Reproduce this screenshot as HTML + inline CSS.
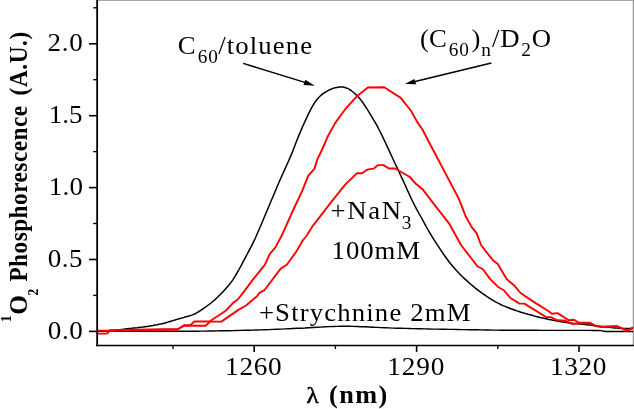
<!DOCTYPE html>
<html><head><meta charset="utf-8"><title>Singlet oxygen phosphorescence</title>
<style>
html,body{margin:0;padding:0;background:#fff;}
svg{display:block;}
text{font-family:"Liberation Serif","Times New Roman",serif;fill:#000;}
</style></head><body>
<svg width="634" height="409" viewBox="0 0 634 409">
<rect width="634" height="409" fill="#fff"/>
<line x1="97" y1="0.4" x2="634" y2="0.4" stroke="#999" stroke-width="0.95"/>
<line x1="633.4" y1="0" x2="633.4" y2="346" stroke="#999" stroke-width="1.3"/>
<g fill="none" stroke-linejoin="round" stroke-linecap="butt">
<polyline stroke="#000" stroke-width="1.4" points="97.0,331.0 101.0,331.0 105.0,331.1 109.0,331.1 113.0,331.1 117.0,331.2 121.0,331.2 125.0,331.2 129.0,331.2 133.0,331.3 137.0,331.3 141.0,331.3 145.0,331.3 149.0,331.3 153.0,331.3 157.0,331.3 161.0,331.3 165.0,331.3 169.0,331.3 173.0,331.3 177.0,331.3 181.0,331.3 185.0,331.3 189.0,331.3 193.0,331.2 197.0,331.2 201.0,331.1 205.0,331.1 209.0,331.0 213.0,331.0 217.0,330.9 221.0,330.8 225.0,330.7 229.0,330.7 233.0,330.6 237.0,330.5 241.0,330.4 245.0,330.3 249.0,330.2 253.0,330.1 257.0,330.0 261.0,329.9 265.0,329.7 269.0,329.6 273.0,329.4 277.0,329.2 281.0,329.1 285.0,328.9 289.0,328.7 293.0,328.5 297.0,328.3 301.0,328.2 305.0,328.0 309.0,327.7 313.0,327.5 317.0,327.3 321.0,327.1 325.0,326.8 329.0,326.6 333.0,326.5 337.0,326.4 341.0,326.3 345.0,326.3 349.0,326.3 353.0,326.4 357.0,326.5 361.0,326.7 365.0,326.8 369.0,327.0 373.0,327.2 377.0,327.4 381.0,327.6 385.0,327.7 389.0,327.9 393.0,328.1 397.0,328.2 401.0,328.3 405.0,328.4 409.0,328.5 413.0,328.6 417.0,328.7 421.0,328.8 425.0,328.9 429.0,329.0 433.0,329.1 437.0,329.1 441.0,329.2 445.0,329.3 449.0,329.4 453.0,329.4 457.0,329.5 461.0,329.6 465.0,329.6 469.0,329.7 473.0,329.8 477.0,329.8 481.0,329.9 485.0,330.0 489.0,330.0 493.0,330.1 497.0,330.1 501.0,330.2 505.0,330.2 509.0,330.2 513.0,330.3 517.0,330.3 521.0,330.3 525.0,330.3 529.0,330.3 533.0,330.3 537.0,330.3 541.0,330.4 545.0,330.4 549.0,330.4 553.0,330.4 557.0,330.4 561.0,330.4 565.0,330.4 569.0,330.4 573.0,330.4 577.0,330.4 581.0,330.4 585.0,330.4 589.0,330.4 593.0,330.5 597.0,330.5 601.0,330.6 605.0,331.5 609.0,331.5 613.0,331.5 617.0,331.5 621.0,331.5 625.0,331.5 629.0,331.5 633.0,331.5"/>
<polyline stroke="#000" stroke-width="1.5" points="97.0,331.2 99.0,331.2 101.0,331.2 103.0,331.1 105.0,331.1 107.0,331.0 109.0,330.8 111.0,330.7 113.0,330.5 115.0,330.3 117.0,330.1 119.0,329.9 121.0,329.6 123.0,329.4 125.0,329.1 127.0,328.8 129.0,328.6 131.0,328.4 133.0,328.1 135.0,327.9 137.0,327.7 139.0,327.4 141.0,327.2 143.0,327.0 145.0,326.7 147.0,326.4 149.0,326.2 151.0,325.8 153.0,325.5 155.0,325.1 157.0,324.8 159.0,324.3 161.0,323.9 163.0,323.4 165.0,322.9 167.0,322.4 169.0,321.8 171.0,321.2 173.0,320.6 175.0,320.0 177.0,319.4 179.0,318.8 181.0,318.2 183.0,317.7 185.0,317.1 187.0,316.6 189.0,316.0 191.0,315.4 193.0,314.6 195.0,313.8 197.0,312.7 199.0,311.5 201.0,310.2 203.0,308.9 205.0,307.4 207.0,306.0 209.0,304.5 211.0,303.0 213.0,301.3 215.0,299.6 217.0,297.8 219.0,295.8 221.0,293.8 223.0,291.7 225.0,289.5 227.0,287.3 229.0,285.0 231.0,282.4 233.0,279.6 235.0,276.4 237.0,273.0 239.0,269.5 241.0,265.9 243.0,262.2 245.0,258.4 247.0,254.5 249.0,250.6 251.0,246.8 253.0,242.9 255.0,238.8 257.0,234.3 259.0,229.7 261.0,225.0 263.0,220.2 265.0,215.5 267.0,210.8 269.0,206.0 271.0,201.3 273.0,196.5 275.0,191.7 277.0,187.0 279.0,182.3 281.0,177.7 283.0,173.3 285.0,168.9 287.0,164.5 289.0,160.0 291.0,155.4 293.0,150.5 295.0,145.3 297.0,140.0 299.0,135.1 301.0,130.4 303.0,125.8 305.0,121.4 307.0,117.1 309.0,112.8 311.0,108.8 313.0,105.3 315.0,102.2 317.0,99.5 319.0,97.2 321.0,95.3 323.0,93.7 325.0,92.3 327.0,91.1 329.0,90.1 331.0,89.2 333.0,88.4 335.0,87.8 337.0,87.4 339.0,87.1 341.0,87.0 343.0,87.1 345.0,87.5 347.0,88.2 349.0,89.2 351.0,90.5 353.0,92.0 355.0,93.7 357.0,95.6 359.0,97.8 361.0,100.1 363.0,102.8 365.0,105.8 367.0,108.9 369.0,112.2 371.0,115.4 373.0,118.8 375.0,122.2 377.0,125.7 379.0,129.5 381.0,133.5 383.0,137.6 385.0,141.8 387.0,146.1 389.0,150.4 391.0,154.7 393.0,159.0 395.0,163.3 397.0,167.5 399.0,171.8 401.0,176.1 403.0,180.4 405.0,184.8 407.0,189.2 409.0,193.6 411.0,198.0 413.0,202.2 415.0,206.2 417.0,209.9 419.0,213.5 421.0,217.0 423.0,220.7 425.0,224.4 427.0,228.0 429.0,231.5 431.0,234.8 433.0,238.1 435.0,241.3 437.0,244.4 439.0,247.4 441.0,250.4 443.0,253.4 445.0,256.3 447.0,259.0 449.0,261.7 451.0,264.2 453.0,266.6 455.0,268.9 457.0,271.1 459.0,273.2 461.0,275.2 463.0,277.2 465.0,279.1 467.0,280.9 469.0,282.7 471.0,284.5 473.0,286.1 475.0,287.8 477.0,289.3 479.0,290.9 481.0,292.4 483.0,293.8 485.0,295.2 487.0,296.6 489.0,297.9 491.0,299.2 493.0,300.4 495.0,301.6 497.0,302.7 499.0,303.7 501.0,304.7 503.0,305.6 505.0,306.4 507.0,307.2 509.0,308.0 511.0,308.8 513.0,309.5 515.0,310.2 517.0,310.9 519.0,311.5 521.0,312.2 523.0,312.8 525.0,313.4 527.0,314.0 529.0,314.6 531.0,315.1 533.0,315.6 535.0,316.2 537.0,316.7 539.0,317.2 541.0,317.7 543.0,318.1 545.0,318.6 547.0,319.0 549.0,319.4 551.0,319.8 553.0,320.2 555.0,320.6 557.0,321.0 559.0,321.3 561.0,321.7 563.0,322.0 565.0,322.3 567.0,322.6 569.0,322.9 571.0,323.1 573.0,323.4 575.0,323.6 577.0,323.8 579.0,324.0 581.0,324.1 583.0,324.3 585.0,324.5 587.0,324.7 589.0,324.9 591.0,325.1 593.0,325.4 595.0,325.7 597.0,325.9 599.0,326.2 601.0,326.4 603.0,326.7 605.0,326.9 607.0,327.1 609.0,327.3 611.0,327.5 613.0,327.7 615.0,327.9 617.0,328.0 619.0,328.2 621.0,328.3 623.0,328.4 625.0,328.5 627.0,328.5 629.0,328.5 631.0,328.5 633.0,328.5"/>
<polyline stroke="#f00" stroke-width="1.9" points="97.0,333.6 107.0,333.6 110.0,330.6 177.8,329.5 184.0,325.8 205.6,325.8 210.2,321.6 221.4,321.6 238.4,309.9 246.0,305.5 257.3,296.0 259.5,292.8 264.8,289.8 280.7,268.6 286.8,264.8 296.6,251.1 302.7,240.5 306.5,236.0 312.8,225.8 330.4,203.1 345.6,184.1 357.0,173.3 362.0,173.3 367.1,169.7 370.0,169.1 373.8,168.6 378.2,165.1 383.4,165.1 388.9,168.5 395.2,168.5 409.8,177.0 416.1,184.1 422.5,189.2 435.1,205.6 449.0,223.3 461.0,245.0 477.6,266.5 482.7,269.0 490.2,279.1 497.8,286.7 504.1,290.5 510.4,298.0 519.5,303.6 524.4,303.6 546.2,317.1 550.9,317.1 557.5,320.3 565.1,320.7 572.7,324.1 579.0,323.0 589.6,323.2 595.5,326.0 601.4,327.0 617.0,326.5 622.9,329.0 627.8,330.8 633.0,327.8"/>
<polyline stroke="#f00" stroke-width="1.9" points="97.0,330.6 108.0,330.6 110.0,330.3 177.8,329.0 184.0,325.3 190.4,325.3 194.2,321.5 209.4,321.5 225.8,310.7 233.4,302.6 237.8,299.5 246.0,288.9 252.7,279.9 264.8,264.8 269.7,254.2 275.4,247.4 281.5,236.0 285.0,228.3 293.2,210.0 302.2,190.9 308.3,175.7 314.4,168.9 317.4,159.1 321.9,150.0 324.1,145.0 327.5,137.0 335.1,123.1 345.2,109.2 357.8,95.4 367.9,87.5 384.3,87.3 400.7,97.9 410.8,110.5 417.2,121.9 422.6,129.8 428.5,141.3 437.1,157.5 445.2,172.9 459.1,199.3 465.4,215.7 471.7,227.1 476.7,233.4 481.0,245.0 492.8,260.2 497.8,263.9 506.6,279.1 514.2,285.4 520.5,293.0 535.7,303.1 548.0,310.8 551.9,313.7 557.5,313.1 568.9,320.3 574.0,319.8 578.9,322.7 589.6,322.7 595.5,325.6 601.4,326.6 617.0,326.1 622.9,328.6 627.8,330.5 633.0,327.4"/>
</g>
<g stroke="#000" fill="none">
<line x1="97.15" y1="0" x2="97.15" y2="346.3" stroke-width="1.8"/>
<line x1="96.25" y1="345.5" x2="634" y2="345.5" stroke-width="1.6"/>
</g>
<g stroke="#000" stroke-width="1.6">
<line x1="89.0" y1="331.4" x2="97.2" y2="331.4" stroke-width="1.6"/>
<line x1="93.2" y1="295.4" x2="97.2" y2="295.4" stroke-width="1.35"/>
<line x1="89.0" y1="259.5" x2="97.2" y2="259.5" stroke-width="1.6"/>
<line x1="93.2" y1="223.5" x2="97.2" y2="223.5" stroke-width="1.35"/>
<line x1="89.0" y1="187.6" x2="97.2" y2="187.6" stroke-width="1.6"/>
<line x1="93.2" y1="151.6" x2="97.2" y2="151.6" stroke-width="1.35"/>
<line x1="89.0" y1="115.7" x2="97.2" y2="115.7" stroke-width="1.6"/>
<line x1="93.2" y1="79.7" x2="97.2" y2="79.7" stroke-width="1.35"/>
<line x1="89.0" y1="43.8" x2="97.2" y2="43.8" stroke-width="1.6"/>
<line x1="93.2" y1="7.8" x2="97.2" y2="7.8" stroke-width="1.35"/>
<line x1="173.0" y1="345.5" x2="173.0" y2="349.0" stroke-width="1.35"/>
<line x1="254.2" y1="345.5" x2="254.2" y2="351.9" stroke-width="1.6"/>
<line x1="335.4" y1="345.5" x2="335.4" y2="349.0" stroke-width="1.35"/>
<line x1="416.6" y1="345.5" x2="416.6" y2="351.9" stroke-width="1.6"/>
<line x1="497.8" y1="345.5" x2="497.8" y2="349.0" stroke-width="1.35"/>
<line x1="579.0" y1="345.5" x2="579.0" y2="351.9" stroke-width="1.6"/>
</g>
<g stroke="#000" stroke-width="1.5">
<line x1="243.2" y1="63.4" x2="308" y2="83.4"/>
<line x1="491.4" y1="63.1" x2="412" y2="82.3"/>
</g>
<polygon points="314.9,85.7 303.5,85.0 305.3,79.7" fill="#000"/>
<polygon points="404.9,84.1 414.3,79.0 416.2,84.2" fill="#000"/>
<text transform="translate(177.80,53.7) scale(1.07,1)" style="font-size:25px;letter-spacing:0.00px;">C</text>
<text transform="translate(197.73,62.6) scale(1.07,1)" style="font-size:18px;letter-spacing:0.74px;">60</text>
<text transform="translate(218.31,53.7) scale(1.07,1)" style="font-size:25px;letter-spacing:1.03px;">/toluene</text>
<text transform="translate(419.90,47.0) scale(1.07,1)" style="font-size:25px;letter-spacing:0.07px;">(C</text>
<text transform="translate(448.87,56.1) scale(1.07,1)" style="font-size:18px;letter-spacing:0.71px;">60</text>
<text transform="translate(471.40,47.0) scale(1.07,1)" style="font-size:25px;letter-spacing:0.00px;">)</text>
<text transform="translate(481.34,56.0) scale(1.07,1)" style="font-size:18px;letter-spacing:0.00px;">n</text>
<text transform="translate(491.91,47.0) scale(1.07,1)" style="font-size:25px;letter-spacing:0.84px;">/D</text>
<text transform="translate(521.24,56.0) scale(1.07,1)" style="font-size:18px;letter-spacing:0.00px;">2</text>
<text transform="translate(531.65,47.0) scale(1.07,1)" style="font-size:25px;letter-spacing:0.00px;">O</text>
<text transform="translate(330.53,219.2) scale(1.07,1)" style="font-size:25px;letter-spacing:1.51px;">+NaN</text>
<text transform="translate(401.80,229.3) scale(1.07,1)" style="font-size:18px;letter-spacing:0.00px;">3</text>
<text transform="translate(331.61,258.6) scale(1.07,1)" style="font-size:25px;letter-spacing:0.87px;">100mM</text>
<text transform="translate(258.89,321.2) scale(1.07,1)" style="font-size:25px;letter-spacing:1.07px;">+Strychnine 2mM</text>
<text transform="translate(306.47,403.2) scale(1.07,1)" style="font-size:23.5px;letter-spacing:0.00px;stroke:#000;stroke-width:0.55px;">λ</text>
<text transform="translate(329.11,403.2) scale(1.05,1)" style="font-size:25px;letter-spacing:1.32px;font-weight:bold;">(nm)</text>
<text transform="translate(225.06,374.5) scale(1.07,1)" style="font-size:25.5px;letter-spacing:0.67px;">1260</text>
<text transform="translate(387.28,374.5) scale(1.07,1)" style="font-size:25.5px;letter-spacing:0.77px;">1290</text>
<text transform="translate(549.98,374.5) scale(1.07,1)" style="font-size:25.5px;letter-spacing:0.56px;">1320</text>
<text transform="translate(47.63,338.5) scale(1.07,1)" style="font-size:25.3px;letter-spacing:0.67px;">0.0</text>
<text transform="translate(47.63,266.6) scale(1.07,1)" style="font-size:25.3px;letter-spacing:0.53px;">0.5</text>
<text transform="translate(48.72,194.7) scale(1.07,1)" style="font-size:25.3px;letter-spacing:0.21px;">1.0</text>
<text transform="translate(48.72,122.8) scale(1.07,1)" style="font-size:25.3px;letter-spacing:-0.05px;">1.5</text>
<text transform="translate(47.48,50.9) scale(1.07,1)" style="font-size:25.3px;letter-spacing:0.74px;">2.0</text>
<text transform="translate(10.5,322.03) rotate(-90) scale(0.93,1)" style="font-size:14.5px;letter-spacing:0.00px;font-weight:bold;">1</text>
<text transform="translate(26.8,314.85) rotate(-90) scale(0.975,1)" style="font-size:26px;letter-spacing:0.00px;font-weight:bold;">O</text>
<text transform="translate(38.0,295.51) rotate(-90) scale(0.93,1)" style="font-size:14.5px;letter-spacing:0.00px;font-weight:bold;">2</text>
<text transform="translate(26.6,281.59) rotate(-90) scale(0.93,1)" style="font-size:25px;letter-spacing:0.54px;font-weight:bold;">Phosphorescence</text>
<text transform="translate(26.6,95.40) rotate(-90) scale(0.93,1)" style="font-size:25px;letter-spacing:0.63px;font-weight:bold;">(A.U.)</text>
</svg>
</body></html>
